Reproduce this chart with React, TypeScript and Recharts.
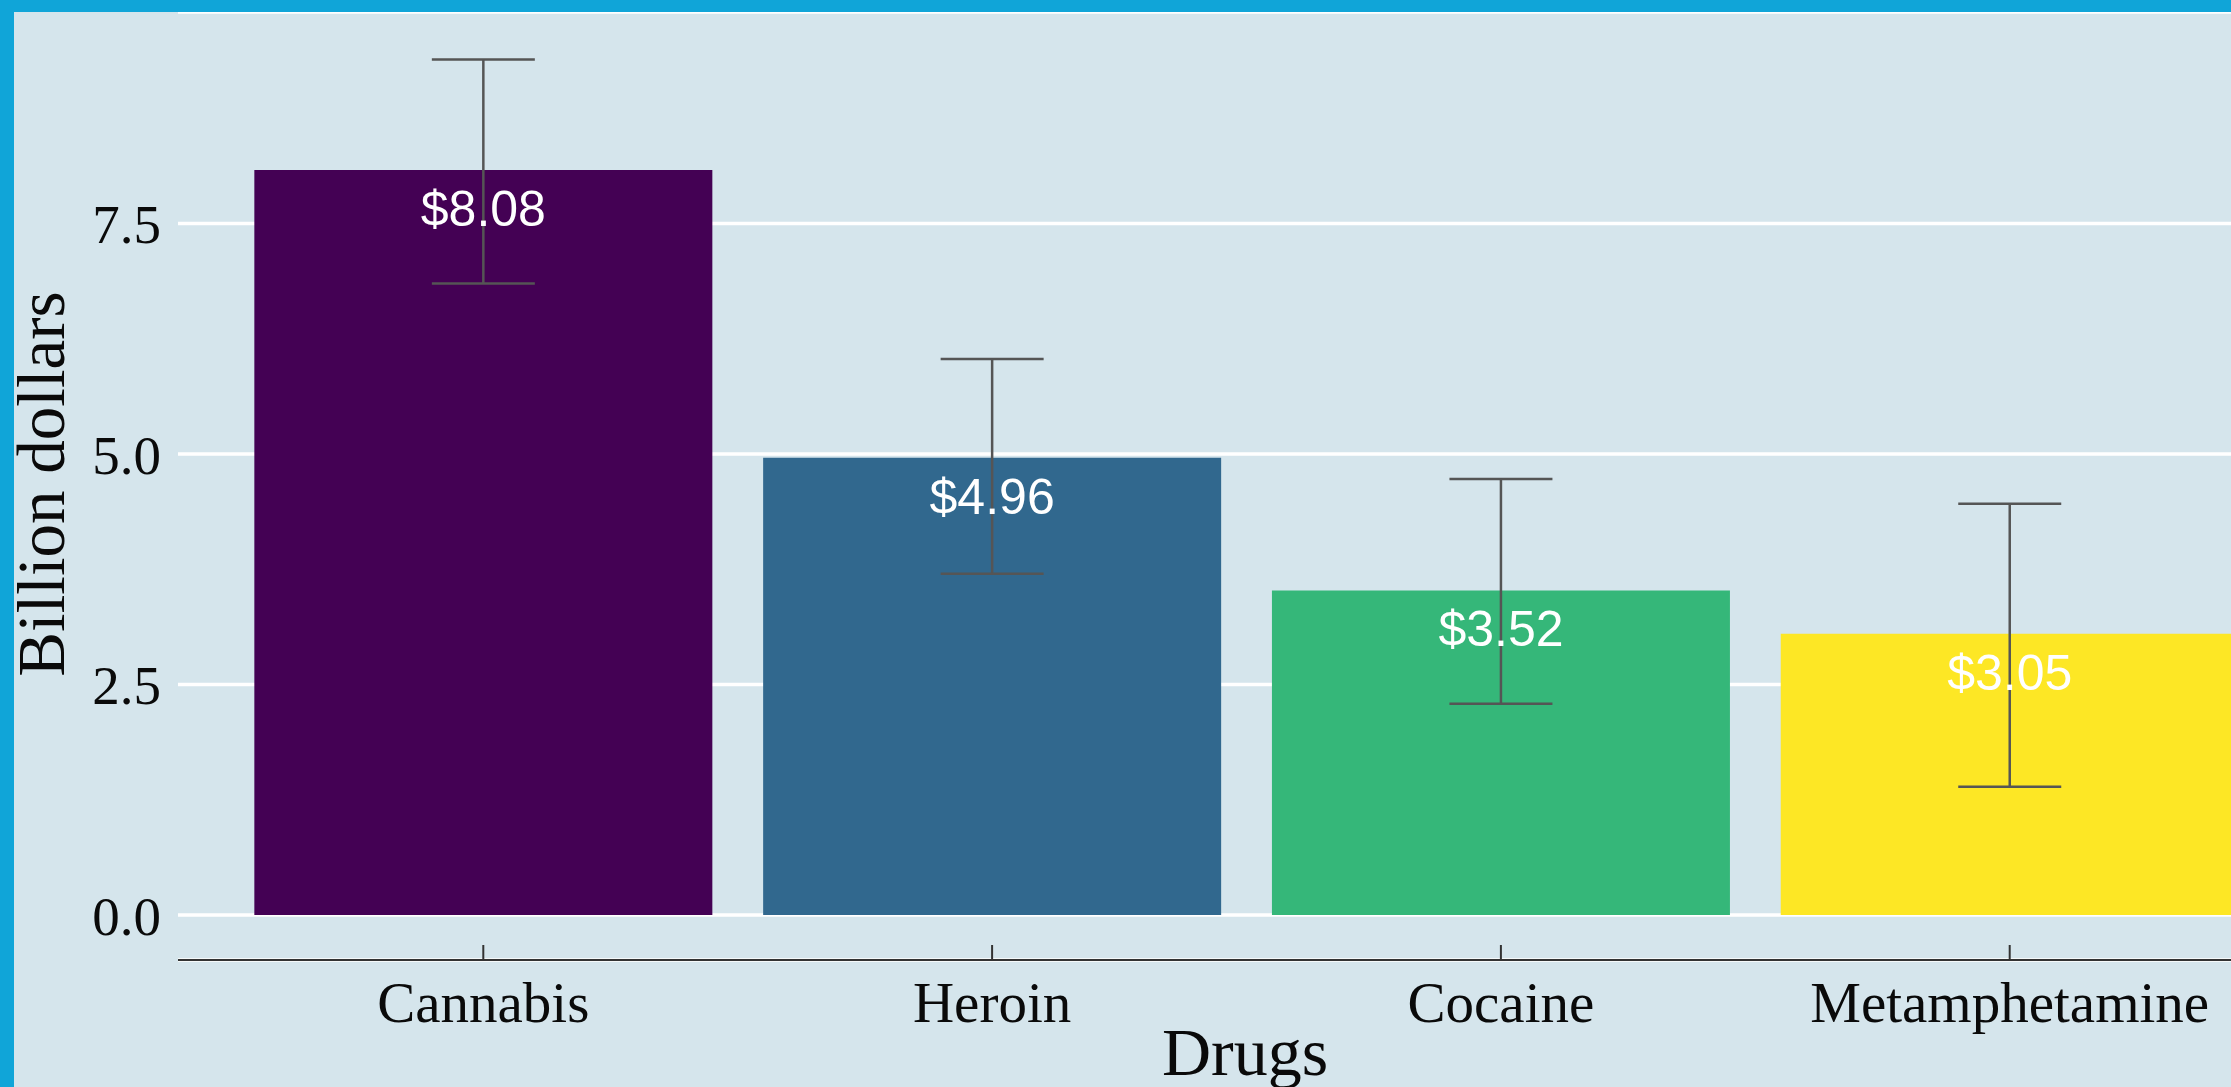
import React from 'react';
import { BarChart, Bar, XAxis, YAxis, CartesianGrid, ErrorBar, LabelList, Cell, Customized } from 'recharts';

const drugs = ['Cannabis', 'Heroin', 'Cocaine', 'Metamphetamine'];
const values = [8.08, 4.96, 3.52, 3.05];
const lowerBounds = [6.85, 3.7, 2.29, 1.39];
const upperBounds = [9.28, 6.03, 4.73, 4.46];
const colors = ['#440154', '#31688E', '#35B779', '#FDE725'];
const yTicks = [0, 2.5, 5, 7.5];

const data = drugs.map((d, i) => ({
  drug: d,
  value: values[i],
  err: [values[i] - lowerBounds[i], upperBounds[i] - values[i]],
  label: `$${values[i].toFixed(2)}`,
}));

const SERIF = '"Liberation Serif", "Times New Roman", serif';
const SANS = '"Liberation Sans", Arial, sans-serif';

const XTick = (props: any) => {
  const { x, y, payload } = props;
  return (
    <g>
      <line x1={x} x2={x} y1={y - 15} y2={y} stroke="#333" strokeWidth={2} />
      <text x={x} y={y + 62} textAnchor="middle" fontFamily={SERIF} fontSize={57} fill="#0a0a0a">
        {payload.value}
      </text>
    </g>
  );
};

const YTick = (props: any) => {
  const { x, y, payload } = props;
  return (
    <text x={x - 17} y={y + 19.5} textAnchor="end" fontFamily={SERIF} fontSize={55} fill="#0a0a0a">
      {Number(payload.value).toFixed(1)}
    </text>
  );
};

const ValueLabel = (props: any) => {
  const { x, y, width, value } = props;
  return (
    <text x={x + width / 2} y={y + 56} textAnchor="middle" fontFamily={SANS} fontSize={50} fill="#FFFFFF">
      {value}
    </text>
  );
};

const Titles = () => (
  <g>
    <text x={1231} y={1063} textAnchor="middle" fontFamily={SERIF} fontSize={68} fill="#0a0a0a">
      Drugs
    </text>
    <text
      x={50}
      y={472}
      transform="rotate(-90, 50, 472)"
      textAnchor="middle"
      fontFamily={SERIF}
      fontSize={67}
      fill="#0a0a0a"
    >
      Billion dollars
    </text>
  </g>
);

export default function App() {
  return (
    <div
      style={{
        position: 'absolute',
        left: 0,
        top: 0,
        width: 2231,
        height: 1087,
        overflow: 'hidden',
        background: '#D5E5EC',
        borderTop: '12px solid #10A5D8',
        borderLeft: '14px solid #10A5D8',
        boxSizing: 'border-box',
      }}
    >
      <BarChart
        width={2400}
        height={1075}
        data={data}
        margin={{ top: 0, right: 99, left: 0, bottom: 0 }}
        barCategoryGap="5%"
      >
        <CartesianGrid horizontal vertical={false} stroke="#FFFFFF" strokeWidth={3.5} />
        <XAxis
          dataKey="drug"
          height={127}
          padding={{ left: 50.9, right: 50.9 }}
          tickLine={false}
          tickSize={0}
          tickMargin={0}
          axisLine={{ stroke: '#333', strokeWidth: 2 }}
          tick={<XTick />}
          interval={0}
        />
        <YAxis
          type="number"
          width={164}
          domain={[-0.488, 9.794]}
          allowDataOverflow
          ticks={yTicks}
          tickLine={false}
          tickSize={0}
          tickMargin={0}
          axisLine={false}
          tick={<YTick />}
        />
        <Bar dataKey="value" isAnimationActive={false}>
          {data.map((d, i) => (
            <Cell key={d.drug} fill={colors[i]} />
          ))}
          <ErrorBar
            dataKey="err"
            direction="y"
            width={51.5}
            stroke="#555555"
            strokeWidth={2.5}
            isAnimationActive={false}
          />
          <LabelList dataKey="label" content={<ValueLabel />} />
        </Bar>
        <Customized component={Titles} />
      </BarChart>
    </div>
  );
}
